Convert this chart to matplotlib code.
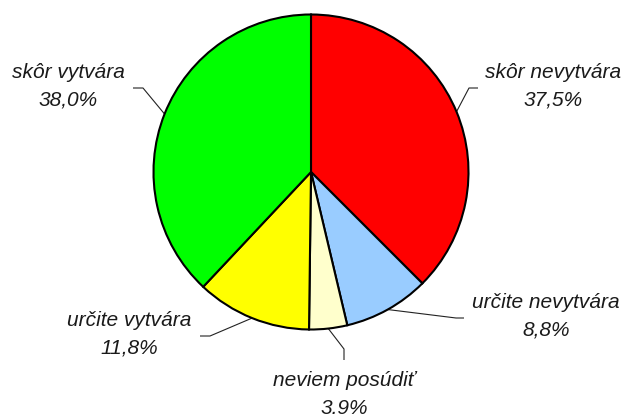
import numpy as np
import matplotlib
matplotlib.use("Agg")
import matplotlib.pyplot as plt

# ---- data ----
categories = ['skôr nevytvára', 'určite nevytvára', 'neviem posúdiť', 'určite vytvára', 'skôr vytvára']
values = [37.5, 8.8, 3.9, 11.8, 38.0]
pct_labels = ['37,5%', '8,8%', '3.9%', '11,8%', '38,0%']
colors = ['#FF0000', '#99CCFF', '#FFFFCC', '#FFFF00', '#00FF00']

# ---- layout (pixel coords, y from top) ----
W, H = 625, 416
center_px = (311, 172)
radius_px = 157.5
label_pos = [(553, 72), (546, 302), (344, 380), (129, 320), (68, 72)]
elbow_pos = [(469, 88), (456, 318), (344, 349), (210, 336), (143, 88)]
tail_pos = [(478, 88), (464, 318), (344, 360), (200, 336), (133, 88)]
line_gap = 28

fig = plt.figure(figsize=(W / 100, H / 100), dpi=100)
ax = fig.add_axes([0, 0, 1, 1])
ax.set_xlim(0, W)
ax.set_ylim(0, H)
ax.set_aspect('equal')
ax.axis('off')

cx, cy = center_px[0], H - center_px[1]
wedges, _ = ax.pie(values, colors=colors, startangle=90, counterclock=False,
                   center=(cx, cy), radius=radius_px,
                   wedgeprops=dict(edgecolor='black', linewidth=1.5), frame=True)
ax.set_xlim(0, W)
ax.set_ylim(0, H)
ax.axis('off')

for w, name, pct, lp, ep, tp in zip(wedges, categories, pct_labels, label_pos, elbow_pos, tail_pos):
    ang = np.deg2rad((w.theta1 + w.theta2) / 2)
    sx = cx + radius_px * np.cos(ang)
    sy = cy + radius_px * np.sin(ang)
    ax.plot([sx, ep[0], tp[0]], [sy, H - ep[1], H - tp[1]], color='#222222', lw=0.8,
            solid_capstyle='butt', zorder=0)
    ax.text(lp[0], H - lp[1], name, ha='center', va='center', fontsize=15,
            style='italic', family='Liberation Sans', color='#1a1a1a')
    ax.text(lp[0], H - lp[1] - line_gap, pct, ha='center', va='center', fontsize=15,
            style='italic', family='Liberation Sans', color='#1a1a1a')

fig.savefig('out.png', dpi=100)
